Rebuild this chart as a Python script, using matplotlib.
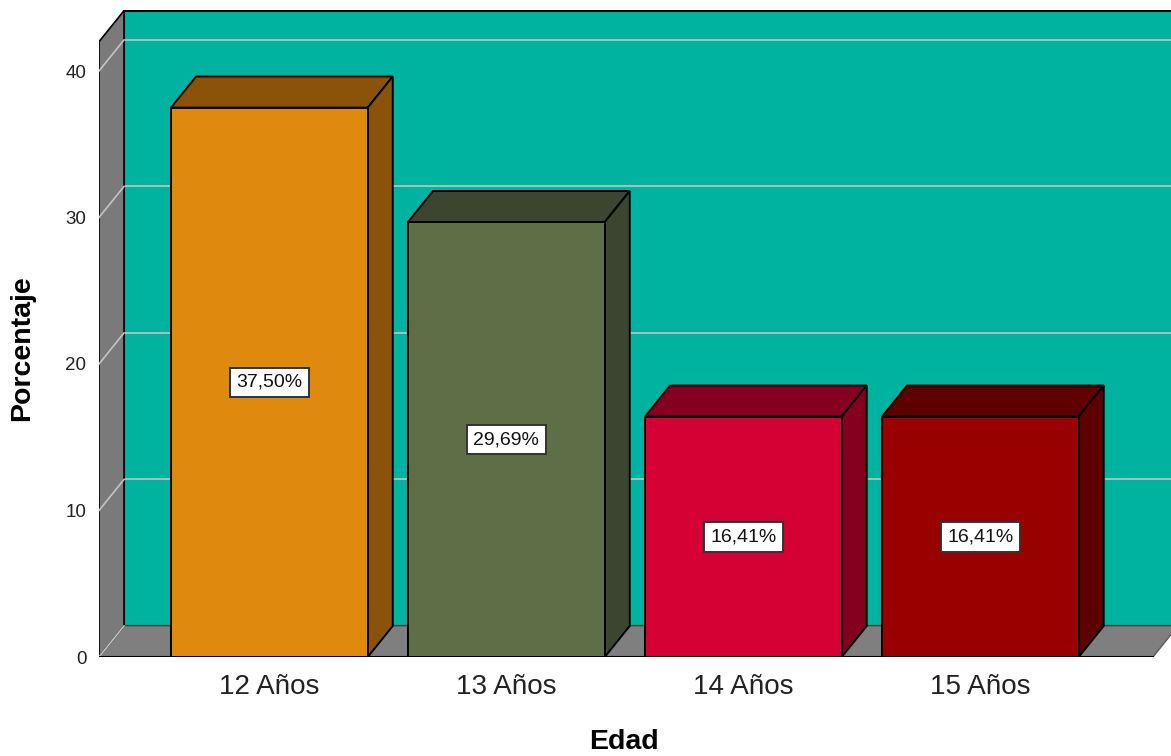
"""SPSS style 3D bar chart: porcentaje por edad."""

import matplotlib.pyplot as plt
from matplotlib.patches import Polygon, Rectangle

plt.rcParams['font.family'] = ['Liberation Sans', 'DejaVu Sans']

# Data.
categories = ['12 Años', '13 Años', '14 Años', '15 Años']
percentages = [37.50, 29.69, 16.41, 16.41]
value_labels = ['37,50%', '29,69%', '16,41%', '16,41%']
y_ticks = [0, 10, 20, 30, 40]

front_colors = ['#E0890F', '#5E6F48', '#D50033', '#990000']
dark_colors = ['#8A5309', '#3B4530', '#85001F', '#5E0000']

# Geometry (data units): bar width, 3D depth offset, wall extent.
bar_w = 0.83
dx, dy = 0.1055, 2.12
wall_top = 42
x_left, x_right = -0.719, 3.728

fig = plt.figure(figsize=(11.71, 7.56), dpi=100)
ax = fig.add_axes([99 / 1171, 99 / 756, 1 - 99 / 1171, (657 - 10) / 756])
ax.set_xlim(x_left, x_left + 1072 / 237)
ax.set_ylim(0, 647 / 14.65)

# Back wall, floor and left wall.
ax.add_patch(Rectangle((x_left + dx, dy), 10, wall_top, facecolor='#00B2A0',
                       edgecolor='black', linewidth=1.5, zorder=1))
for t in y_ticks[1:]:
    ax.plot([x_left + dx, 10], [t + dy, t + dy], color='#C4C4C4', lw=1.2,
            zorder=2)
ax.add_patch(Polygon([(x_left, 0), (x_right, 0), (x_right + dx, dy),
                      (x_left + dx, dy)], closed=True, facecolor='#7F7F7F',
                     edgecolor='#5A5A5A', linewidth=1, zorder=3))
ax.add_patch(Polygon([(x_left, 0), (x_left, wall_top),
                      (x_left + dx, wall_top + dy), (x_left + dx, dy)],
                     closed=True, facecolor='#7A7A7A', edgecolor='black',
                     linewidth=1.2, zorder=3))
for t in y_ticks:
    ax.plot([x_left, x_left + dx], [t, t + dy], color='#C4C4C4', lw=1.2,
            zorder=4)
ax.plot([x_left, x_right], [0, 0], color='black', lw=1.5, zorder=4)

# Bars.
for i, (v, fc, dc) in enumerate(zip(percentages, front_colors, dark_colors)):
    l, r = i - bar_w / 2, i + bar_w / 2
    ax.add_patch(Rectangle((l, 0), bar_w, v, facecolor=fc,
                           edgecolor='black', linewidth=1.4, zorder=6))
    ax.add_patch(Polygon([(l, v), (r, v), (r + dx, v + dy), (l + dx, v + dy)],
                         closed=True, facecolor=dc, edgecolor='black',
                         linewidth=1.4, zorder=5))
    ax.add_patch(Polygon([(r, 0), (r + dx, dy), (r + dx, v + dy), (r, v)],
                         closed=True, facecolor=dc, edgecolor='black',
                         linewidth=1.4, zorder=5))
    ax.text(i, v / 2, value_labels[i], ha='center', va='center',
            fontsize=14, color='#111111', zorder=7,
            bbox=dict(boxstyle='square,pad=0.32', facecolor='white',
                      edgecolor='#333333', linewidth=1.4))

ax.set_xticks(range(len(categories)))
ax.set_xticklabels(categories, fontsize=20, color='#222222')
ax.set_yticks(y_ticks)
ax.set_yticklabels([str(t) for t in y_ticks], fontsize=13.5, color='#222222')
ax.tick_params(axis='x', length=0, pad=12)
ax.tick_params(axis='y', length=0, pad=9)
for s in ax.spines.values():
    s.set_visible(False)

fig.text(22 / 1171, 1 - 348 / 756, 'Porcentaje', rotation=90, ha='center',
         va='center', fontsize=20.5, fontweight='bold')
fig.text(624 / 1171, 1 - 742 / 756, 'Edad', ha='center', va='center',
         fontsize=20.5, fontweight='bold')

fig.savefig('out.png', dpi=100)
